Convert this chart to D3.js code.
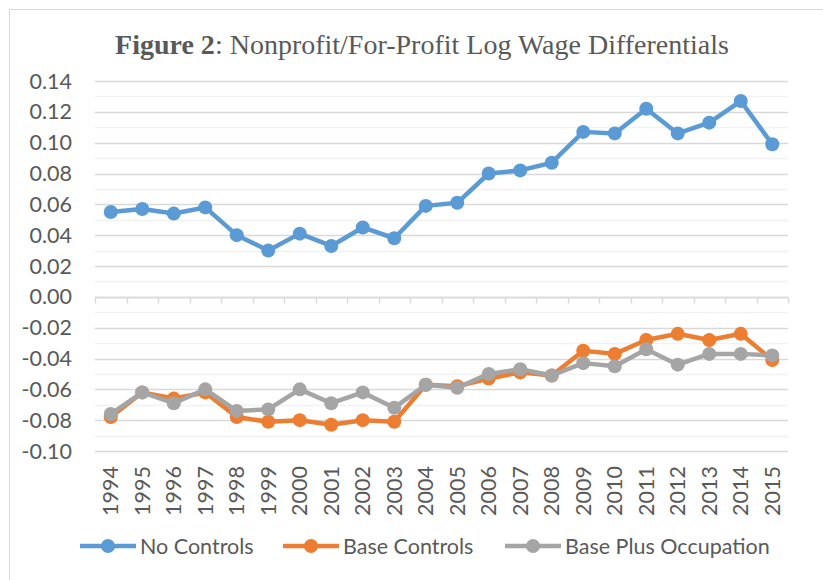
<!DOCTYPE html>
<html>
<head>
<meta charset="utf-8">
<script src="https://cdn.jsdelivr.net/npm/d3@7"></script>
<style>
  body { margin: 0; background: #fff; }
  text { fill: #595959; }
</style>
</head>
<body>
<div id="root"></div>
<script>
// data
var years = ["1994","1995","1996","1997","1998","1999","2000","2001","2002","2003","2004",
             "2005","2006","2007","2008","2009","2010","2011","2012","2013","2014","2015"];
var noControls = [0.055,0.057,0.054,0.058,0.040,0.030,0.041,0.033,0.045,0.038,0.059,
                  0.061,0.080,0.082,0.087,0.107,0.106,0.122,0.106,0.113,0.127,0.099];
var baseControls = [-0.078,-0.062,-0.066,-0.062,-0.078,-0.081,-0.080,-0.083,-0.080,-0.081,-0.057,
                    -0.058,-0.053,-0.049,-0.051,-0.035,-0.037,-0.028,-0.024,-0.028,-0.024,-0.041];
var basePlusOcc = [-0.076,-0.062,-0.069,-0.060,-0.074,-0.073,-0.060,-0.069,-0.062,-0.072,-0.057,
                   -0.059,-0.050,-0.047,-0.051,-0.043,-0.045,-0.034,-0.044,-0.037,-0.037,-0.038];
var seriesNames = ["No Controls", "Base Controls", "Base Plus Occupation"];
var colors = ["#5B9BD5", "#ED7D31", "#A5A5A5"];
var yTicks = [0.14,0.12,0.10,0.08,0.06,0.04,0.02,0.00,-0.02,-0.04,-0.06,-0.08,-0.10];

var W = 823, H = 580;
var font = "Lato, 'Open Sans', sans-serif";
var fs = "21.5px";

var svg = d3.select("#root")
  .append("svg")
  .attr("width", W)
  .attr("height", H);

// chart frame (only top/left visible in the crop)
svg.append("rect")
  .attr("x", 9.5).attr("y", 9.5)
  .attr("width", W + 20).attr("height", H + 20)
  .attr("fill", "none")
  .attr("stroke", "#D9D9D9");

var x = d3.scaleBand().domain(years).range([95, 788]);
var y = d3.scaleLinear().domain([-0.10, 0.14]).range([451, 81]);

// minor gridlines every 0.01
var minor = d3.range(-0.09, 0.14, 0.02);
svg.append("g").selectAll("line")
  .data(minor)
  .enter().append("line")
  .attr("x1", 95).attr("x2", 788)
  .attr("y1", function (d) { return Math.round(y(d)) + 0.5; })
  .attr("y2", function (d) { return Math.round(y(d)) + 0.5; })
  .attr("stroke", "#F2F2F2")
  .attr("stroke-width", 1.5);

// major gridlines
svg.append("g").selectAll("line")
  .data(yTicks)
  .enter().append("line")
  .attr("x1", 95).attr("x2", 788)
  .attr("y1", function (d) { return Math.round(y(d)) + 0.5; })
  .attr("y2", function (d) { return Math.round(y(d)) + 0.5; })
  .attr("stroke", "#D9D9D9")
  .attr("stroke-width", 1.5);

// y axis labels
svg.append("g").selectAll("text")
  .data(yTicks)
  .enter().append("text")
  .attr("x", 72)
  .attr("y", function (d) { return y(d); })
  .attr("dy", "0.35em")
  .attr("text-anchor", "end")
  .style("font-family", font)
  .style("font-size", fs)
  .text(function (d) { return d.toFixed(2); });

// horizontal axis at zero with tick marks down
var y0 = Math.round(y(0)) + 0.5;
svg.append("line")
  .attr("x1", 95).attr("x2", 788)
  .attr("y1", y0).attr("y2", y0)
  .attr("stroke", "#D9D9D9").attr("stroke-width", 1.5);
var tickPos = years.map(function (d) { return x(d); }).concat([788]);
svg.append("g").selectAll("line")
  .data(tickPos)
  .enter().append("line")
  .attr("x1", function (d) { return Math.round(d) + 0.5; })
  .attr("x2", function (d) { return Math.round(d) + 0.5; })
  .attr("y1", y0).attr("y2", y0 + 6)
  .attr("stroke", "#D9D9D9").attr("stroke-width", 1.5);

// year labels rotated
svg.append("g").selectAll("text")
  .data(years)
  .enter().append("text")
  .attr("transform", function (d) {
    return "translate(" + (x(d) + x.bandwidth() / 2) + ",466) rotate(-90)";
  })
  .attr("dy", "0.35em")
  .attr("text-anchor", "end")
  .style("font-family", font)
  .style("font-size", fs)
  .text(function (d) { return d; });

// series
var allSeries = [noControls, baseControls, basePlusOcc];
var line = d3.line()
  .x(function (d, i) { return x(years[i]) + x.bandwidth() / 2; })
  .y(function (d) { return y(d); });

allSeries.forEach(function (s, k) {
  var g = svg.append("g");
  g.append("path")
    .datum(s)
    .attr("d", line)
    .attr("fill", "none")
    .attr("stroke", colors[k])
    .attr("stroke-width", 4.5)
    .attr("stroke-linejoin", "round");
  g.selectAll("circle")
    .data(s)
    .enter().append("circle")
    .attr("cx", function (d, i) { return x(years[i]) + x.bandwidth() / 2; })
    .attr("cy", function (d) { return y(d); })
    .attr("r", 7)
    .attr("fill", colors[k]);
});

// title
var title = svg.append("text")
  .attr("x", 422)
  .attr("y", 54)
  .attr("text-anchor", "middle")
  .style("font-family", "'Liberation Serif', 'Times New Roman', serif")
  .style("font-size", "28px");
title.append("tspan").style("font-weight", "bold").text("Figure 2");
title.append("tspan").text(": Nonprofit/For-Profit Log Wage Differentials");

// legend
var legendX = [80, 283, 505];
var legend = svg.append("g").selectAll("g")
  .data(seriesNames)
  .enter().append("g")
  .attr("transform", function (d, i) { return "translate(" + legendX[i] + ",546)"; });
legend.append("line")
  .attr("x1", 0).attr("x2", 56)
  .attr("stroke", function (d, i) { return colors[i]; })
  .attr("stroke-width", 4.5);
legend.append("circle")
  .attr("cx", 28).attr("r", 7)
  .attr("fill", function (d, i) { return colors[i]; });
legend.append("text")
  .attr("x", 60)
  .attr("dy", "0.35em")
  .style("font-family", font)
  .style("font-size", fs)
  .text(function (d) { return d; });
</script>
</body>
</html>
